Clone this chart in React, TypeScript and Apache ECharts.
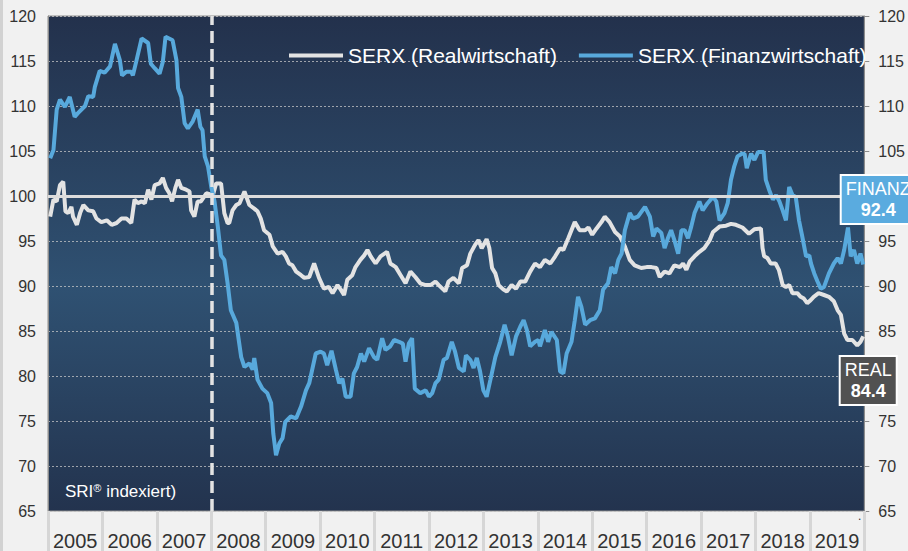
import React, { useEffect, useRef } from "react";
import * as echarts from "echarts";

const years = ["2005","2006","2007","2008","2009","2010","2011","2012","2013","2014","2015","2016","2017","2018","2019"];
const yTicks = { min: 65, max: 120, step: 5 };

const realT = [2005.04,2005.10,2005.16,2005.22,2005.28,2005.32,2005.37,2005.43,2005.46,2005.53,2005.59,2005.65,2005.74,2005.83,2005.89,2005.98,2006.08,2006.17,2006.26,2006.35,2006.44,2006.53,2006.59,2006.65,2006.72,2006.78,2006.84,2006.90,2006.96,2007.05,2007.11,2007.17,2007.23,2007.28,2007.34,2007.39,2007.45,2007.54,2007.60,2007.63,2007.69,2007.75,2007.81,2007.91,2008.03,2008.09,2008.18,2008.24,2008.30,2008.33,2008.39,2008.46,2008.52,2008.61,2008.70,2008.79,2008.85,2008.91,2008.97,2009.07,2009.13,2009.22,2009.31,2009.37,2009.43,2009.49,2009.56,2009.65,2009.71,2009.80,2009.89,2009.98,2010.07,2010.16,2010.23,2010.32,2010.38,2010.44,2010.50,2010.59,2010.65,2010.74,2010.81,2010.87,2010.93,2011.02,2011.11,2011.23,2011.29,2011.39,2011.48,2011.57,2011.66,2011.75,2011.84,2011.94,2012.03,2012.12,2012.18,2012.30,2012.36,2012.45,2012.55,2012.61,2012.70,2012.76,2012.85,2012.91,2012.97,2013.06,2013.11,2013.16,2013.22,2013.28,2013.37,2013.43,2013.52,2013.60,2013.68,2013.77,2013.86,2013.95,2014.04,2014.13,2014.23,2014.32,2014.41,2014.47,2014.56,2014.68,2014.77,2014.87,2014.93,2015.00,2015.08,2015.17,2015.23,2015.32,2015.42,2015.51,2015.60,2015.69,2015.78,2015.90,2016.00,2016.09,2016.18,2016.24,2016.33,2016.42,2016.51,2016.61,2016.67,2016.73,2016.79,2016.88,2016.97,2017.06,2017.16,2017.22,2017.34,2017.46,2017.55,2017.64,2017.76,2017.88,2017.98,2018.10,2018.13,2018.16,2018.22,2018.28,2018.37,2018.43,2018.50,2018.56,2018.62,2018.68,2018.77,2018.83,2018.89,2018.95,2019.01,2019.07,2019.16,2019.26,2019.35,2019.44,2019.51,2019.57,2019.63,2019.69,2019.78,2019.87,2019.93,2019.98];
const realV = [97.7,99.6,99.4,101.2,101.6,98.3,98.1,98.8,97.7,96.8,98.1,99.0,98.4,98.3,97.5,97.1,97.3,96.8,97.0,97.5,97.5,97.0,99.6,99.2,99.4,99.2,100.7,99.6,101.2,101.4,102.0,100.9,100.3,99.4,100.9,101.8,100.9,100.7,100.5,98.4,97.7,99.4,99.4,100.3,100.1,101.4,101.4,98.1,97.0,97.0,98.4,99.0,99.2,100.5,99.0,98.6,98.3,97.5,96.2,95.7,94.4,93.6,93.8,93.3,92.5,92.3,91.6,91.2,90.9,91.0,92.5,90.9,89.7,89.9,89.2,90.1,89.6,89.0,90.7,91.2,92.1,92.9,93.4,94.0,93.3,92.5,93.3,93.8,92.5,92.1,91.2,90.3,91.6,91.0,90.3,90.1,90.1,90.5,90.1,89.4,90.5,90.9,90.3,92.0,92.3,93.6,94.6,95.1,94.2,95.2,94.2,92.0,91.4,90.1,89.6,89.4,90.1,89.7,90.5,90.5,91.6,92.5,92.1,92.9,92.5,93.3,94.2,94.0,95.3,97.1,96.2,96.2,96.5,95.7,96.4,97.1,97.7,97.1,96.0,95.5,94.4,92.9,92.3,92.0,92.1,92.1,92.0,91.0,91.6,91.4,92.3,92.1,92.5,91.8,92.7,93.3,93.8,94.2,95.1,96.0,96.6,96.7,96.9,96.8,96.5,95.8,96.3,96.4,94.2,93.3,93.1,92.5,92.5,91.8,90.1,89.9,90.1,89.2,89.2,88.8,88.6,88.1,88.4,88.8,89.2,89.0,88.8,88.3,87.3,86.8,84.7,84.0,84.0,83.4,83.8,84.4];

const finT = [2005.04,2005.10,2005.16,2005.22,2005.31,2005.40,2005.49,2005.55,2005.68,2005.74,2005.83,2005.86,2005.95,2006.04,2006.14,2006.23,2006.32,2006.36,2006.44,2006.53,2006.56,2006.62,2006.72,2006.84,2006.89,2006.96,2007.05,2007.11,2007.16,2007.29,2007.36,2007.39,2007.45,2007.51,2007.57,2007.66,2007.75,2007.80,2007.84,2007.88,2007.94,2008.00,2008.06,2008.12,2008.18,2008.24,2008.30,2008.36,2008.46,2008.55,2008.61,2008.70,2008.76,2008.79,2008.85,2008.94,2009.03,2009.10,2009.14,2009.19,2009.25,2009.31,2009.36,2009.46,2009.56,2009.65,2009.74,2009.80,2009.92,2010.01,2010.07,2010.13,2010.21,2010.29,2010.35,2010.41,2010.47,2010.56,2010.62,2010.68,2010.75,2010.81,2010.90,2010.99,2011.05,2011.14,2011.20,2011.29,2011.36,2011.45,2011.52,2011.57,2011.63,2011.69,2011.74,2011.84,2011.94,2012.00,2012.06,2012.12,2012.18,2012.27,2012.33,2012.42,2012.48,2012.55,2012.64,2012.68,2012.76,2012.82,2012.88,2012.94,2013.00,2013.06,2013.13,2013.22,2013.31,2013.39,2013.45,2013.52,2013.60,2013.68,2013.74,2013.80,2013.86,2013.95,2014.01,2014.04,2014.13,2014.19,2014.25,2014.35,2014.41,2014.47,2014.53,2014.62,2014.68,2014.74,2014.80,2014.87,2014.96,2015.05,2015.14,2015.20,2015.29,2015.35,2015.42,2015.48,2015.54,2015.60,2015.69,2015.75,2015.84,2015.97,2016.06,2016.12,2016.18,2016.27,2016.33,2016.39,2016.45,2016.51,2016.58,2016.64,2016.70,2016.76,2016.82,2016.88,2016.97,2017.03,2017.12,2017.22,2017.28,2017.34,2017.43,2017.49,2017.55,2017.61,2017.67,2017.75,2017.80,2017.84,2017.92,2017.98,2018.05,2018.15,2018.19,2018.25,2018.32,2018.38,2018.44,2018.50,2018.56,2018.62,2018.68,2018.74,2018.80,2018.86,2018.93,2018.99,2019.02,2019.08,2019.14,2019.20,2019.26,2019.35,2019.44,2019.51,2019.57,2019.63,2019.70,2019.75,2019.81,2019.87,2019.93,2019.98];
const finV = [104.2,105.1,109.6,110.7,109.9,111.0,108.8,109.2,110.0,111.1,111.0,112.1,113.9,113.7,114.4,116.9,115.1,113.4,113.8,113.8,113.4,114.9,117.5,117.0,114.7,114.2,113.6,114.9,117.7,117.3,115.1,112.0,111.0,108.1,107.5,108.3,109.6,107.7,107.3,104.4,103.3,101.0,99.4,96.6,93.4,92.9,90.3,87.3,85.9,82.1,81.0,81.4,80.7,82.0,79.6,78.6,78.1,77.0,73.6,71.2,72.5,73.1,74.9,75.5,75.3,76.6,78.4,79.2,82.5,82.7,82.5,81.2,82.8,80.7,79.2,79.7,77.7,77.7,80.3,81.0,82.5,81.6,83.1,82.1,81.8,84.2,82.9,83.3,84.0,83.8,83.6,81.6,83.6,84.2,78.6,78.1,78.4,77.7,78.1,79.2,79.6,81.8,82.0,83.8,82.7,80.9,80.5,82.3,81.8,80.9,82.0,80.5,78.4,77.7,79.6,82.1,83.8,85.7,84.4,82.3,84.4,85.5,86.2,85.1,83.3,83.8,84.0,83.3,85.1,83.8,84.9,84.0,80.5,80.3,82.5,83.8,86.2,88.8,87.7,85.7,86.2,86.4,87.3,89.6,90.3,92.1,91.4,92.9,93.6,96.2,98.1,97.5,97.7,98.8,97.7,95.5,96.4,95.9,94.2,95.3,96.2,95.1,93.6,96.2,96.2,95.3,96.6,98.1,99.4,98.4,99.2,99.9,99.4,97.3,98.1,99.2,101.8,103.3,104.4,104.7,104.7,103.1,104.7,104.0,104.9,104.9,101.8,100.7,99.6,100.1,99.4,98.4,97.3,101.0,100.1,99.9,97.3,95.5,93.3,93.4,92.5,91.4,90.5,89.7,89.9,91.4,92.5,93.1,92.5,94.0,96.5,93.3,94.0,92.5,93.6,92.4];

const FONT = "'Liberation Sans', Arial, sans-serif";

export default function App() {
  const ref = useRef<HTMLDivElement>(null);
  useEffect(() => {
    document.body.style.margin = "0";
    const chart = echarts.init(ref.current!, null, { renderer: "svg" });
    const realData = realT.map((t, i) => [t, realV[i]]);
    const finData = finT.map((t, i) => [t, finV[i]]);
    const rLast = realData[realData.length - 1];
    const fLast = finData[finData.length - 1];
    const yAxisBase = {
      type: "value",
      min: yTicks.min,
      max: yTicks.max,
      interval: yTicks.step,
      axisLine: { show: true, lineStyle: { color: "#8c8c8c", width: 1 } },
      splitLine: { show: true, lineStyle: { color: "rgba(200,200,200,0.75)", type: [2, 2], width: 1 } },
      axisLabel: { color: "#333", fontSize: 16, fontFamily: FONT },
    };
    chart.setOption({
      animation: false,
      backgroundColor: "#f1f1f1",
      grid: {
        left: 48, right: 41, top: 16, bottom: 40,
        show: true,
        backgroundColor: new echarts.graphic.LinearGradient(0, 0, 0, 1, [
          { offset: 0, color: "#23314c" },
          { offset: 0.55, color: "#2f5172" },
          { offset: 1, color: "#23334e" },
        ]),
        borderColor: "#8c8c8c",
        borderWidth: 1,
      },
      legend: {
        left: 284, top: 40,
        icon: "rect", itemWidth: 54, itemHeight: 4, itemGap: 22,
        textStyle: { color: "#ffffff", fontSize: 21, fontFamily: FONT },
        data: ["SERX (Realwirtschaft)", "SERX (Finanzwirtschaft)"],
      },
      xAxis: [
        {
          type: "category", data: years, boundaryGap: true,
          axisLine: { show: false },
          axisTick: { show: true, length: 40, lineStyle: { color: "#d6d6d6", width: 3 } },
          axisLabel: { color: "#333", fontSize: 20, fontFamily: FONT, margin: 20, interval: 0 },
          splitLine: { show: false },
        },
        { type: "value", min: 2005, max: 2020, show: false, splitLine: { show: false } },
      ],
      yAxis: [
        { ...yAxisBase, position: "left", axisTick: { show: false }, axisLabel: { ...yAxisBase.axisLabel, margin: 12 } },
        { ...yAxisBase, position: "right", axisTick: { show: true, length: 5, lineStyle: { color: "#8c8c8c" } }, axisLabel: { ...yAxisBase.axisLabel, margin: 14 }, splitLine: { show: false } },
      ],
      graphic: [
        { type: "rect", left: 0, top: 0, shape: { width: 3, height: 551 }, style: { fill: "#d2d2d2" }, z: 0 },
        {
          type: "text", left: 65, top: 482, z: 10,
          style: {
            text: "{a|SRI}{s|®}{a| indexiert)}",
            rich: {
              a: { fontSize: 17, fill: "#ffffff", fontFamily: FONT, lineHeight: 20 },
              s: { fontSize: 11, fill: "#ffffff", fontFamily: FONT, padding: [0, 0, 8, 0], lineHeight: 20 },
            },
          },
        },
        { type: "text", left: 858, top: 510, style: { text: ".", fontSize: 12, fill: "#333", fontFamily: FONT } },
      ],
      series: [
        {
          name: "SERX (Realwirtschaft)", type: "line", xAxisIndex: 1, yAxisIndex: 0,
          data: realData, showSymbol: false, symbol: "none",
          lineStyle: { color: "#e3e3e3", width: 4 }, itemStyle: { color: "#e3e3e3" },
          z: 3,
          markLine: {
            silent: true, symbol: "none",
            label: { show: false },
            data: [
              { yAxis: 100, lineStyle: { color: "#dcdcdc", width: 3, type: "solid" } },
              { xAxis: 2008, lineStyle: { color: "#e3e3e3", width: 3.5, type: [12, 6] } },
            ],
          },
          markPoint: {
            symbol: "circle", symbolSize: 0, silent: true,
            data: [{ coord: rLast, value: rLast[1] }],
            label: {
              show: true, position: "inside", offset: [5, 44],
              formatter: (p: any) => `{a|REAL}\n{b|${Number(p.value).toFixed(1)}}`,
              backgroundColor: "#515151", borderColor: "#ffffff", borderWidth: 2,
              padding: [3, 4, 2, 4], align: "center",
              rich: {
                a: { fontSize: 18, color: "#ffffff", fontFamily: FONT, lineHeight: 21, align: "center" },
                b: { fontSize: 18, color: "#ffffff", fontWeight: "bold", fontFamily: FONT, lineHeight: 21, align: "center" },
              },
            },
          },
        },
        {
          name: "SERX (Finanzwirtschaft)", type: "line", xAxisIndex: 1, yAxisIndex: 0,
          data: finData, showSymbol: false, symbol: "none",
          lineStyle: { color: "#58a9dc", width: 4 }, itemStyle: { color: "#58a9dc" },
          z: 4,
          markPoint: {
            symbol: "circle", symbolSize: 0, silent: true,
            data: [{ coord: fLast, value: fLast[1] }],
            label: {
              show: true, position: "inside", offset: [15, -65],
              formatter: (p: any) => `{a|FINANZ}\n{b|${Number(p.value).toFixed(1)}}`,
              backgroundColor: "#5aabdf", borderColor: "#ffffff", borderWidth: 2,
              padding: [3, 4, 2, 4], align: "center",
              rich: {
                a: { fontSize: 18, color: "#ffffff", fontFamily: FONT, lineHeight: 21, align: "center" },
                b: { fontSize: 18, color: "#ffffff", fontWeight: "bold", fontFamily: FONT, lineHeight: 21, align: "center" },
              },
            },
          },
        },
      ],
    });
    return () => chart.dispose();
  }, []);
  return <div ref={ref} style={{ position: "absolute", left: 0, top: 0, width: 908, height: 551 }} />;
}
